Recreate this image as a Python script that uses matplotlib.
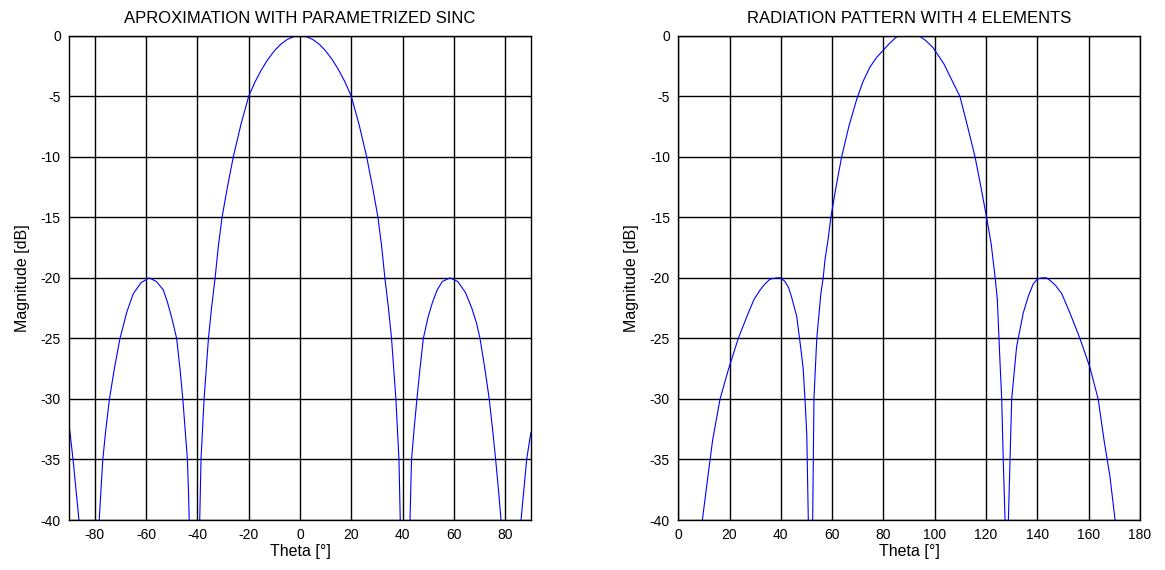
import matplotlib
matplotlib.use('Agg')

import matplotlib.pyplot as plt

# Left panel: parametrized sinc approximation
sinc_theta = [-90, -88.5, -86.2, -82,
              -78.3, -77.6, -76.9, -75.7, -74.3, -72.4, -70.2, -67.5, -65.0,
              -62.0, -58.8, -56.0, -53.3, -51.7, -50.0, -48.1, -46.8, -45.7,
              -44.8, -43.9, -43.5, -43.2, -41.2,
              -39.1, -38.6, -37.4, -35.7, -34.5, -33.1, -31.9, -30.4, -28.3,
              -26.0, -23.0, -20.0, -17.5, -15.0, -12.5, -10.0, -7.5, -5.0,
              -2.5, 0.0, 2.5, 5.0, 7.5, 10.0, 12.5, 15.0, 17.5, 20.0, 23.0,
              26.0, 28.3, 30.4, 31.9, 33.1, 34.5, 35.7, 37.4, 38.6, 39.1, 41.0,
              42.9, 43.2, 43.5, 44.5, 45.6, 46.8, 48.1, 50.0, 51.7, 53.5, 55.5,
              58.5, 61.5, 64.5, 67.0, 68.8, 70.2, 72.1, 73.8, 75.1, 76.3, 77.4,
              78.4, 82.0,
              86.2, 88.4, 90]
sinc_db = [-32.2, -35.0, -40.0, -60.0,
           -40.0, -37.5, -35.0, -32.5, -30.0, -27.5, -25.0, -22.8, -21.3,
           -20.4, -20.0, -20.3, -21.0, -22.0, -23.3, -25.0, -27.5, -30.0,
           -32.5, -35.0, -37.5, -40.0, -60.0,
           -40.0, -35.0, -30.0, -25.0, -22.5, -20.0, -17.5, -15.0, -12.5,
           -10.0, -7.3, -5.0, -3.8, -2.8, -1.95, -1.25, -0.7, -0.31,
           -0.08, 0.0, -0.08, -0.31, -0.7, -1.25, -1.95, -2.8, -3.8, -5.0, -7.3,
           -10.0, -12.5, -15.0, -17.5, -20.0, -22.5, -25.0, -30.0, -35.0, -40.0, -60.0,
           -40.0, -37.5, -35.0, -32.5, -30.0, -27.5, -25.0, -23.2, -22.0, -21.0, -20.3,
           -20.0, -20.3, -21.2, -22.5, -23.7, -25.0, -27.5, -30.0, -32.5, -35.0, -37.5,
           -40.0, -60.0,
           -40.0, -35.0, -32.8]

# Right panel: 4 element array radiation pattern
array_theta = [9.4, 11.5, 13.4, 16.3, 19.5, 23.4, 27.3, 29.5, 31.9, 33.8, 35.8,
               38.5, 40.0, 41.6, 43.0, 44.2, 46.2, 47.7, 48.7, 49.4, 50.1, 50.7, 51.6,
               52.4, 52.9, 54.0, 55.6, 56.5, 57.2, 58.3, 59.5, 61.5, 63.7, 66.5,
               69.5, 72.0, 74.7, 77.3, 79.9, 82.5, 85.1, 87.0, 90.0, 93.0, 94.2,
               96.5, 99.4, 103.5, 107.2, 109.8, 112.8, 115.7, 118.0, 120.2, 122.0,
               123.5, 124.4, 125.4, 126.1, 126.7, 127.4, 128.0,
               128.7, 130.0, 131.9, 134.5, 136.5, 138.4, 140.0, 141.7, 143.5,
               144.9, 147.0, 149.5, 152.7, 156.6, 160.5, 163.7, 166.0, 168.3, 170.3]
array_db = [-40.0, -36.5, -33.4, -30.0, -27.6, -25.0, -22.9, -21.8, -21.0, -20.5, -20.1,
            -20.0, -20.0, -20.3, -20.8, -21.6, -23.2, -25.7, -27.5, -30.0, -32.9, -40.0, -60.0,
            -40.0, -30.0, -25.0, -21.3, -20.0, -18.5, -17.0, -15.0, -12.5, -10.0, -7.5,
            -5.3, -3.8, -2.6, -1.8, -1.2, -0.6, -0.1, 0.0, 0.0, 0.0, -0.05,
            -0.4, -1.0, -2.3, -3.9, -5.0, -7.5, -10.0, -12.5, -15.0, -17.2,
            -19.9, -21.8, -26.8, -30.0, -35.0, -40.0, -60.0,
            -40.0, -30.0, -25.7, -22.9, -21.5, -20.5, -20.1, -20.0, -20.0,
            -20.2, -20.6, -21.3, -22.9, -25.0, -27.4, -30.0, -33.4, -36.4, -40.0]

plt.rcParams['font.family'] = ['Liberation Sans', 'DejaVu Sans']
plt.rcParams['axes.unicode_minus'] = False


def style_axes(ax, title, xlim, xticks):
    ax.set_xlim(xlim)
    ax.set_ylim(-40, 0)
    ax.set_xticks(xticks)
    ax.set_yticks(range(-40, 1, 5))
    ax.grid(True, color='black', linewidth=1.0, linestyle='-')
    ax.set_axisbelow(True)
    ax.tick_params(direction='in', length=0, labelsize=10, colors='black', pad=6)
    for s in ax.spines.values():
        s.set_color('black')
        s.set_linewidth(1.0)
    ax.set_title(title, fontsize=12, pad=9)
    ax.set_xlabel('Theta [°]', fontsize=11.5, labelpad=1)
    ax.set_ylabel('Magnitude [dB]', fontsize=11.5, labelpad=8)


fig = plt.figure(figsize=(11.65, 5.7), dpi=100)
ax1 = fig.add_axes([0.0594, 0.0877, 0.3962, 0.8496])
ax2 = fig.add_axes([0.5822, 0.0877, 0.3963, 0.8496])

ax1.plot(sinc_theta, sinc_db, color='blue', linewidth=0.8)
style_axes(ax1, 'APROXIMATION WITH PARAMETRIZED SINC', (-90, 90), range(-80, 81, 20))

ax2.plot(array_theta, array_db, color='blue', linewidth=0.8)
style_axes(ax2, 'RADIATION PATTERN WITH 4 ELEMENTS', (0, 180), range(0, 181, 20))

fig.savefig('out.png', dpi=100)
